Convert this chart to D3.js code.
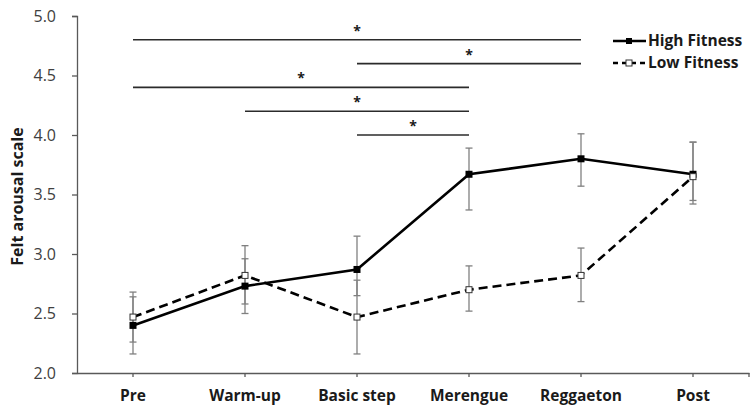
<!DOCTYPE html>
<html>
<head>
<meta charset="utf-8">
<script src="https://cdn.jsdelivr.net/npm/d3@7"></script>
<style>
  body { margin: 0; background: #fff; }
  text { font-family: "Open Sans", "Liberation Sans", sans-serif; }
</style>
</head>
<body>
<div id="chartid"></div>
<script>
"use strict"

// data
var phases = ["Pre", "Warm-up", "Basic step", "Merengue", "Reggaeton", "Post"];
var highFitness = [2.40, 2.73, 2.87, 3.67, 3.80, 3.67];
var highErrUp   = [0.24, 0.23, 0.28, 0.22, 0.21, 0.27];
var highErrDown = [0.24, 0.23, 0.22, 0.30, 0.23, 0.25];
var lowFitness  = [2.47, 2.82, 2.47, 2.70, 2.82, 3.65];
var lowErrUp    = [0.21, 0.25, 0.31, 0.20, 0.23, 0.29];
var lowErrDown  = [0.21, 0.24, 0.31, 0.18, 0.22, 0.20];
var yTicks = [2.0, 2.5, 3.0, 3.5, 4.0, 4.5, 5.0];
// significance brackets: from phase, to phase, height on the y scale
var sigFrom = ["Pre", "Basic step", "Pre", "Warm-up", "Basic step"];
var sigTo   = ["Reggaeton", "Reggaeton", "Merengue", "Merengue", "Merengue"];
var sigY    = [4.8, 4.6, 4.4, 4.2, 4.0];

function createChart(){
  var svg = d3.select("#chartid").append("svg")
    .attr("width", 751)
    .attr("height", 408);

  var margin = { top: 16, right: 2, bottom: 35, left: 77 },
    width = 751 - margin.left - margin.right,
    height = 408 - margin.top - margin.bottom;

  var g = svg.append("g")
    .attr("transform", "translate(" + margin.left + "," + margin.top + ")");

  var scale_x = d3.scaleBand()
    .domain(phases)
    .range([0, width]);
  var cx = function(p){ return scale_x(p) + scale_x.bandwidth() / 2; };

  var scale_y = d3.scaleLinear()
    .domain([2, 5])
    .range([height, 0]);

  var axisColor = "#595959";

  // y axis
  var y_axis = d3.axisLeft(scale_y)
    .tickValues(yTicks)
    .tickFormat(d3.format(".1f"))
    .tickSize(5)
    .tickPadding(16);
  var ya = g.append("g").call(y_axis);
  ya.select(".domain").attr("stroke", axisColor).attr("stroke-width", 1.3);
  ya.selectAll(".tick line").attr("stroke", axisColor).attr("stroke-width", 1.3);
  ya.selectAll(".tick text")
    .attr("fill", "#404040")
    .style("font-size", "16px")
    .style("font-family", "'Open Sans', sans-serif");

  // x axis
  var x_axis = d3.axisBottom(scale_x)
    .tickSize(0)
    .tickPadding(17);
  var xa = g.append("g")
    .attr("transform", "translate(0," + height + ")")
    .call(x_axis);
  xa.select(".domain").attr("stroke", axisColor).attr("stroke-width", 1.3);
  xa.selectAll(".tick text")
    .attr("fill", "#1a1a1a")
    .style("font-size", "15.5px")
    .style("font-weight", "bold")
    .style("font-family", "'Open Sans', sans-serif");
  // small tick marks at category centres and at the axis end
  xa.selectAll(".tick").append("line")
    .attr("y2", 4)
    .attr("stroke", axisColor)
    .attr("stroke-width", 1.3);
  xa.append("line")
    .attr("x1", width).attr("x2", width)
    .attr("y1", 0).attr("y2", 4)
    .attr("stroke", axisColor)
    .attr("stroke-width", 1.3);

  // y label
  svg.append("text")
    .attr("transform", "translate(23," + (margin.top + height / 2 + 2) + ") rotate(-90)")
    .attr("text-anchor", "middle")
    .style("font-size", "16px")
    .style("font-weight", "bold")
    .attr("fill", "#1a1a1a")
    .text("Felt arousal scale");

  // significance brackets
  var sig = g.append("g");
  sigY.forEach(function(v, i){
    var x1 = cx(sigFrom[i]), x2 = cx(sigTo[i]);
    sig.append("line")
      .attr("x1", x1).attr("x2", x2)
      .attr("y1", scale_y(v)).attr("y2", scale_y(v))
      .attr("stroke", "#2b2b2b")
      .attr("stroke-width", 1.6);
    sig.append("text")
      .attr("x", (x1 + x2) / 2)
      .attr("y", scale_y(v) - 4)
      .attr("text-anchor", "middle")
      .style("font-size", "14px")
      .style("font-weight", "bold")
      .attr("fill", "#1a1a1a")
      .text("*");
  });

  // error bars
  function errorBars(vals, up, down){
    var eb = g.append("g").attr("stroke", "#808080").attr("stroke-width", 1.3);
    vals.forEach(function(v, i){
      var x = cx(phases[i]);
      var yTop = scale_y(v + up[i]), yBot = scale_y(v - down[i]);
      eb.append("line").attr("x1", x).attr("x2", x).attr("y1", yTop).attr("y2", yBot);
      eb.append("line").attr("x1", x - 3.5).attr("x2", x + 3.5).attr("y1", yTop).attr("y2", yTop);
      eb.append("line").attr("x1", x - 3.5).attr("x2", x + 3.5).attr("y1", yBot).attr("y2", yBot);
    });
  }
  errorBars(highFitness, highErrUp, highErrDown);
  errorBars(lowFitness, lowErrUp, lowErrDown);

  var line = d3.line()
    .x(function(d, i){ return cx(phases[i]); })
    .y(function(d){ return scale_y(d); });

  g.append("path")
    .datum(lowFitness)
    .attr("fill", "none")
    .attr("stroke", "#000")
    .attr("stroke-width", 2.6)
    .attr("stroke-dasharray", "9,5")
    .attr("d", line);

  g.append("path")
    .datum(highFitness)
    .attr("fill", "none")
    .attr("stroke", "#000")
    .attr("stroke-width", 2.6)
    .attr("d", line);

  // markers
  g.selectAll(".mHigh").data(highFitness).enter().append("rect")
    .attr("class", "mHigh")
    .attr("x", function(d, i){ return cx(phases[i]) - 3.5; })
    .attr("y", function(d){ return scale_y(d) - 3.5; })
    .attr("width", 7).attr("height", 7)
    .attr("fill", "#000");

  g.selectAll(".mLow").data(lowFitness).enter().append("rect")
    .attr("class", "mLow")
    .attr("x", function(d, i){ return cx(phases[i]) - 3; })
    .attr("y", function(d){ return scale_y(d) - 3; })
    .attr("width", 6).attr("height", 6)
    .attr("fill", "#fff")
    .attr("stroke", "#333")
    .attr("stroke-width", 1);

  // legend
  var legend = svg.append("g").attr("transform", "translate(613,0)");
  var legendItems = [
    { name: "High Fitness", dash: null, fill: "#000", y: 41 },
    { name: "Low Fitness", dash: "5,4", fill: "#fff", y: 63 }
  ];
  legendItems.forEach(function(it){
    legend.append("line")
      .attr("x1", 0).attr("x2", 33)
      .attr("y1", it.y).attr("y2", it.y)
      .attr("stroke", "#000")
      .attr("stroke-width", 2.4)
      .attr("stroke-dasharray", it.dash);
    legend.append("rect")
      .attr("x", 13).attr("y", it.y - 3)
      .attr("width", 6).attr("height", 6)
      .attr("fill", it.fill)
      .attr("stroke", it.dash ? "#333" : "none")
      .attr("stroke-width", 1);
    legend.append("text")
      .attr("x", 35)
      .attr("y", it.y + 5)
      .style("font-size", "15.5px")
      .style("font-weight", "bold")
      .attr("fill", "#1a1a1a")
      .text(it.name);
  });
}

createChart();
</script>
</body>
</html>
